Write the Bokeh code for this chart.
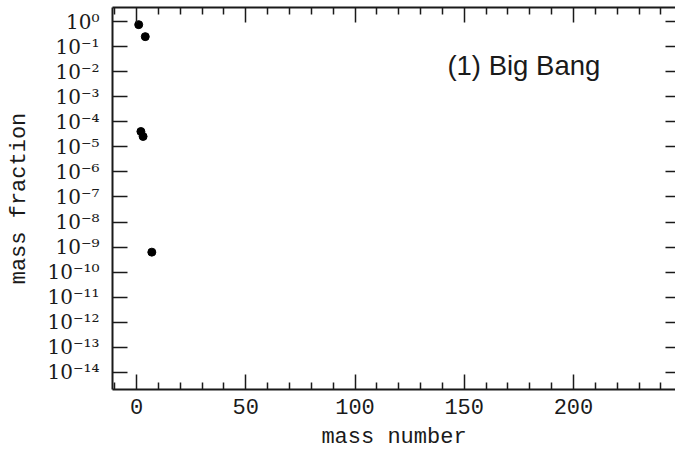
from bokeh.plotting import figure
from bokeh.models import (Range1d, FixedTicker, LinearAxis, LogAxis,
                          CustomJSTickFormatter, CustomLabelingPolicy, Label)
from bokeh.embed import file_html
from bokeh.resources import INLINE

# Primordial abundances after Big Bang nucleosynthesis
isotopes = ["1H", "2H", "3He", "4He", "7Li"]
mass_number = [1, 2, 3, 4, 7]
mass_fraction = [0.75, 4.1e-5, 2.6e-5, 0.25, 6.3e-10]

# Axis ticks and labels
x_ticks = [0, 50, 100, 150, 200]
x_minor_ticks = [-10, 10, 20, 30, 40, 60, 70, 80, 90, 110, 120, 130, 140,
                 160, 170, 180, 190, 210, 220, 230, 240]
y_exponents = [0, -1, -2, -3, -4, -5, -6, -7, -8, -9, -10, -11, -12, -13, -14]
y_tick_labels = ["10⁰", "10⁻¹", "10⁻²", "10⁻³", "10⁻⁴", "10⁻⁵", "10⁻⁶", "10⁻⁷",
                 "10⁻⁸", "10⁻⁹", "10⁻¹⁰", "10⁻¹¹", "10⁻¹²", "10⁻¹³", "10⁻¹⁴"]
y_ticks = [10.0 ** e for e in y_exponents]

LABEL_FONT = "Liberation Mono"
POWER_FONT = "DejaVu Serif"
INK = "#1a1a1a"

p = figure(width=675, height=454,
           x_range=Range1d(-11, 246.7),
           y_range=Range1d(10 ** -14.68, 10 ** 0.56),
           y_axis_type="log",
           output_backend="svg", toolbar_location=None,
           min_border_left=112, min_border_right=0,
           min_border_top=7, min_border_bottom=65)
p.outline_line_color = None
p.grid.visible = False
p.background_fill_color = "white"
p.border_fill_color = "white"

power_formatter = CustomJSTickFormatter(
    args=dict(exps=y_exponents, labels=y_tick_labels),
    code="""
        const e = Math.round(Math.log10(tick));
        const i = exps.indexOf(e);
        return i >= 0 ? labels[i] : "";
    """)

# the mirrored axes carry tick marks only
blank_formatter = CustomJSTickFormatter(code="return '';")
no_labels = CustomLabelingPolicy(code="""
    try {
        const n = indices.size;
        for (let i = 0; i < n; i++) indices.unset(i);
    } catch (err) {}
    return indices;
""")


def style_axis(ax, tick_in, minor_in):
    ax.axis_line_color = INK
    ax.axis_line_width = 2
    ax.major_tick_in = tick_in
    ax.major_tick_out = 0
    ax.minor_tick_in = minor_in
    ax.minor_tick_out = 0
    ax.major_tick_line_color = INK
    ax.major_tick_line_width = 1.5
    ax.minor_tick_line_color = INK
    ax.minor_tick_line_width = 1.5
    ax.major_label_text_color = INK
    ax.major_label_text_font = LABEL_FONT
    ax.axis_label_text_font = LABEL_FONT
    ax.axis_label_text_font_style = "normal"
    ax.axis_label_text_color = INK


def ticks_only(ax):
    ax.formatter = blank_formatter
    ax.major_label_policy = no_labels
    ax.major_label_text_font_size = "1px"
    ax.major_label_standoff = 0


# bottom axis
xa = p.xaxis[0]
xa.ticker = FixedTicker(ticks=x_ticks, minor_ticks=x_minor_ticks)
style_axis(xa, 15, 7)
xa.major_label_text_font_size = "22px"
xa.major_label_standoff = 9
xa.axis_label = "mass number"
xa.axis_label_text_font_size = "22px"
xa.axis_label_standoff = 8

# left axis
ya = p.yaxis[0]
ya.ticker = FixedTicker(ticks=y_ticks, minor_ticks=[])
ya.formatter = power_formatter
style_axis(ya, 15, 0)
ya.major_label_text_font = POWER_FONT
ya.major_label_text_font_size = "20px"
ya.major_label_standoff = 13
ya.axis_label = "mass fraction"
ya.axis_label_text_font_size = "22px"
ya.axis_label_standoff = 12

# mirrored ticks on top and right
top = LinearAxis(ticker=FixedTicker(ticks=x_ticks, minor_ticks=x_minor_ticks))
style_axis(top, 15, 7)
ticks_only(top)
p.add_layout(top, "above")

right = LogAxis(ticker=FixedTicker(ticks=y_ticks, minor_ticks=[]))
style_axis(right, 10, 0)
right.axis_line_color = None
ticks_only(right)
p.add_layout(right, "right")

p.scatter(mass_number, mass_fraction, size=8, marker="circle",
          fill_color="black", line_color="black")

p.add_layout(Label(x=142.3, y=10 ** -1.77, text="(1) Big Bang",
                   text_font="Liberation Sans", text_font_size="27.5px",
                   text_color=INK, text_baseline="middle", text_align="left"))

open("out.html", "w").write(file_html(p, INLINE))
